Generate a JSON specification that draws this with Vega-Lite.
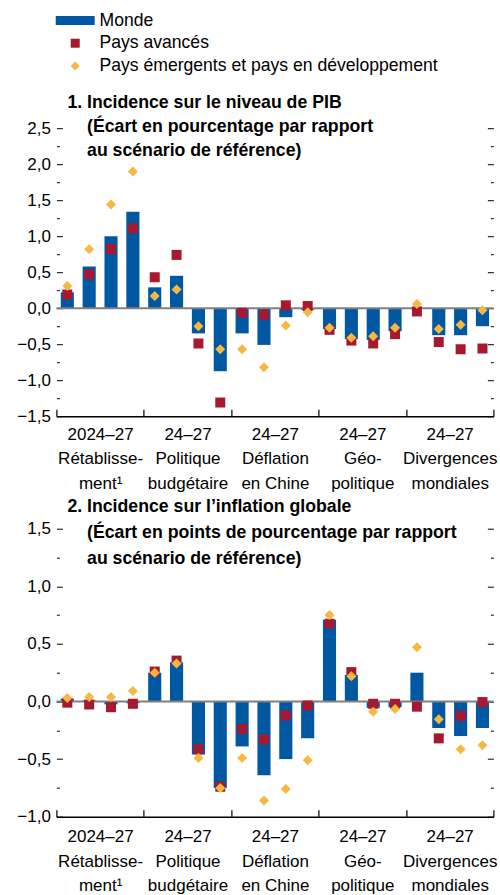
{
  "$schema": "https://vega.github.io/schema/vega-lite/v6.json",
  "padding": {"left": 16.4, "top": 11.2, "right": 4, "bottom": 0},
  "background": "white",
  "config": {
    "font": "Liberation Sans, Arial, sans-serif",
    "view": {"stroke": null},
    "axis": {
      "labelFont": "Liberation Sans, Arial, sans-serif",
      "labelFontSize": 17,
      "labelColor": "black",
      "grid": false,
      "title": null
    },
    "title": {
      "anchor": "start",
      "frame": "group",
      "font": "Liberation Sans, Arial, sans-serif",
      "fontSize": 17.7,
      "fontWeight": "bold",
      "color": "black",
      "dx": 11,
      "baseline": "alphabetic"
    },
    "legend": {
      "orient": "none",
      "legendX": 10,
      "legendY": -116.5,
      "title": null,
      "padding": 0,
      "symbolSize": 81,
      "symbolStrokeWidth": 0,
      "symbolOpacity": 1,
      "labelFont": "Liberation Sans, Arial, sans-serif",
      "labelFontSize": 17.6,
      "labelColor": "black",
      "labelOffset": 15.5,
      "rowPadding": 3.7,
      "labelLimit": 0
    }
  },
  "datasets": {
    "pib": [
      {"scenario": "2024–27|Rétablisse-|ment¹", "year": "2024", "Monde": 0.22, "Pays avancés": 0.19, "Pays émergents et pays en développement": 0.31},
      {"scenario": "2024–27|Rétablisse-|ment¹", "year": "2025", "Monde": 0.58, "Pays avancés": 0.47, "Pays émergents et pays en développement": 0.82},
      {"scenario": "2024–27|Rétablisse-|ment¹", "year": "2026", "Monde": 1.0, "Pays avancés": 0.82, "Pays émergents et pays en développement": 1.44},
      {"scenario": "2024–27|Rétablisse-|ment¹", "year": "2027", "Monde": 1.34, "Pays avancés": 1.11, "Pays émergents et pays en développement": 1.9},
      {"scenario": "24–27|Politique|budgétaire", "year": "2024", "Monde": 0.29, "Pays avancés": 0.43, "Pays émergents et pays en développement": 0.17},
      {"scenario": "24–27|Politique|budgétaire", "year": "2025", "Monde": 0.45, "Pays avancés": 0.74, "Pays émergents et pays en développement": 0.26},
      {"scenario": "24–27|Politique|budgétaire", "year": "2026", "Monde": -0.35, "Pays avancés": -0.49, "Pays émergents et pays en développement": -0.25},
      {"scenario": "24–27|Politique|budgétaire", "year": "2027", "Monde": -0.875, "Pays avancés": -1.31, "Pays émergents et pays en développement": -0.57},
      {"scenario": "24–27|Déflation|en Chine", "year": "2024", "Monde": -0.35, "Pays avancés": -0.065, "Pays émergents et pays en développement": -0.57},
      {"scenario": "24–27|Déflation|en Chine", "year": "2025", "Monde": -0.51, "Pays avancés": -0.09, "Pays émergents et pays en développement": -0.82},
      {"scenario": "24–27|Déflation|en Chine", "year": "2026", "Monde": -0.125, "Pays avancés": 0.04, "Pays émergents et pays en développement": -0.24},
      {"scenario": "24–27|Déflation|en Chine", "year": "2027", "Monde": -0.02, "Pays avancés": 0.03, "Pays émergents et pays en développement": -0.055},
      {"scenario": "24–27|Géo-|politique", "year": "2024", "Monde": -0.29, "Pays avancés": -0.3, "Pays émergents et pays en développement": -0.27},
      {"scenario": "24–27|Géo-|politique", "year": "2025", "Monde": -0.43, "Pays avancés": -0.45, "Pays émergents et pays en développement": -0.41},
      {"scenario": "24–27|Géo-|politique", "year": "2026", "Monde": -0.44, "Pays avancés": -0.49, "Pays émergents et pays en développement": -0.39},
      {"scenario": "24–27|Géo-|politique", "year": "2027", "Monde": -0.32, "Pays avancés": -0.36, "Pays émergents et pays en développement": -0.27},
      {"scenario": "24–27|Divergences|mondiales", "year": "2024", "Monde": 0.005, "Pays avancés": -0.045, "Pays émergents et pays en développement": 0.06},
      {"scenario": "24–27|Divergences|mondiales", "year": "2025", "Monde": -0.375, "Pays avancés": -0.47, "Pays émergents et pays en développement": -0.29},
      {"scenario": "24–27|Divergences|mondiales", "year": "2026", "Monde": -0.375, "Pays avancés": -0.57, "Pays émergents et pays en développement": -0.23},
      {"scenario": "24–27|Divergences|mondiales", "year": "2027", "Monde": -0.25, "Pays avancés": -0.56, "Pays émergents et pays en développement": -0.03}
    ],
    "infl": [
      {"scenario": "2024–27|Rétablisse-|ment¹", "year": "2024", "Monde": 0.025, "Pays avancés": -0.01, "Pays émergents et pays en développement": 0.03},
      {"scenario": "2024–27|Rétablisse-|ment¹", "year": "2025", "Monde": 0.01, "Pays avancés": -0.026, "Pays émergents et pays en développement": 0.04},
      {"scenario": "2024–27|Rétablisse-|ment¹", "year": "2026", "Monde": -0.025, "Pays avancés": -0.05, "Pays émergents et pays en développement": 0.04},
      {"scenario": "2024–27|Rétablisse-|ment¹", "year": "2027", "Monde": -0.015, "Pays avancés": -0.02, "Pays émergents et pays en développement": 0.09},
      {"scenario": "24–27|Politique|budgétaire", "year": "2024", "Monde": 0.25, "Pays avancés": 0.26, "Pays émergents et pays en développement": 0.25},
      {"scenario": "24–27|Politique|budgétaire", "year": "2025", "Monde": 0.34, "Pays avancés": 0.355, "Pays émergents et pays en développement": 0.33},
      {"scenario": "24–27|Politique|budgétaire", "year": "2026", "Monde": -0.46, "Pays avancés": -0.415, "Pays émergents et pays en développement": -0.49},
      {"scenario": "24–27|Politique|budgétaire", "year": "2027", "Monde": -0.75, "Pays avancés": -0.74, "Pays émergents et pays en développement": -0.75},
      {"scenario": "24–27|Déflation|en Chine", "year": "2024", "Monde": -0.39, "Pays avancés": -0.24, "Pays émergents et pays en développement": -0.49},
      {"scenario": "24–27|Déflation|en Chine", "year": "2025", "Monde": -0.64, "Pays avancés": -0.33, "Pays émergents et pays en développement": -0.86},
      {"scenario": "24–27|Déflation|en Chine", "year": "2026", "Monde": -0.5, "Pays avancés": -0.12, "Pays émergents et pays en développement": -0.76},
      {"scenario": "24–27|Déflation|en Chine", "year": "2027", "Monde": -0.32, "Pays avancés": -0.035, "Pays émergents et pays en développement": -0.51},
      {"scenario": "24–27|Géo-|politique", "year": "2024", "Monde": 0.71, "Pays avancés": 0.675, "Pays émergents et pays en développement": 0.75},
      {"scenario": "24–27|Géo-|politique", "year": "2025", "Monde": 0.23, "Pays avancés": 0.255, "Pays émergents et pays en développement": 0.22},
      {"scenario": "24–27|Géo-|politique", "year": "2026", "Monde": -0.055, "Pays avancés": -0.02, "Pays émergents et pays en développement": -0.09},
      {"scenario": "24–27|Géo-|politique", "year": "2027", "Monde": -0.05, "Pays avancés": -0.02, "Pays émergents et pays en développement": -0.065},
      {"scenario": "24–27|Divergences|mondiales", "year": "2024", "Monde": 0.25, "Pays avancés": -0.045, "Pays émergents et pays en développement": 0.47},
      {"scenario": "24–27|Divergences|mondiales", "year": "2025", "Monde": -0.23, "Pays avancés": -0.32, "Pays émergents et pays en développement": -0.155},
      {"scenario": "24–27|Divergences|mondiales", "year": "2026", "Monde": -0.3, "Pays avancés": -0.125, "Pays émergents et pays en développement": -0.415},
      {"scenario": "24–27|Divergences|mondiales", "year": "2027", "Monde": -0.23, "Pays avancés": -0.005, "Pays émergents et pays en développement": -0.38}
    ]
  },
  "spacing": 112.5,
  "bounds": "flush",
  "vconcat": [
    {
      "width": 437,
      "height": 288,
      "title": {
        "text": ["1. Incidence sur le niveau de PIB", "\u200b\u00a0\u00a0\u00a0\u00a0(Écart en pourcentage par rapport", "\u200b\u00a0\u00a0\u00a0\u00a0au scénario de référence)"],
        "lineHeight": 23.9,
        "offset": -40.7
      },
      "data": {"name": "pib"},
      "transform": [{"fold": ["Monde", "Pays avancés", "Pays émergents et pays en développement"], "as": ["series", "value"]}],
      "layer": [
        {
          "transform": [{"filter": "datum.series == 'Monde'"}],
          "mark": {"type": "bar"},
          "encoding": {
            "x": {"field": "scenario", "type": "nominal", "sort": null, "scale": {"paddingInner": 0, "paddingOuter": 0},
              "axis": {"orient": "bottom", "tickBand": "extent", "tickSize": -7, "tickColor": "black", "tickWidth": 1.2, "domainColor": "black", "domainWidth": 1.5, "labelExpr": "split(datum.label, '|')", "labelAngle": 0, "labelLineHeight": 24.5, "labelPadding": 17, "labelBaseline": "top", "labelOverlap": false}},
            "xOffset": {"field": "year", "type": "nominal", "scale": {"paddingInner": 0.4, "paddingOuter": 0.2}},
            "y": {"field": "value", "type": "quantitative", "scale": {"domain": [-1.5, 2.5], "nice": false},
              "axis": {"orient": "left", "values": [-1.5, -1.25, -1, -0.75, -0.5, -0.25, 0, 0.25, 0.5, 0.75, 1, 1.25, 1.5, 1.75, 2, 2.25, 2.5],
                "labelExpr": "abs(datum.value*4) % 2 == 0 ? replace(format(datum.value, '.1f'), '.', ',') : ''",
                "tickSize": {"condition": {"test": "abs(datum.value*4) % 2 == 0", "value": -6}, "value": -3},
                "tickColor": "black", "domain": false, "labelPadding": 12}},
            "color": {"field": "series", "type": "nominal",
              "scale": {"domain": ["Monde", "Pays avancés", "Pays émergents et pays en développement"], "range": ["#0058a3", "#a6192e", "#f5b942"]}}
          }
        },
        {
          "data": {"values": [{}]},
          "mark": {"type": "rule", "color": "#808080", "strokeWidth": 2},
          "encoding": {"y": {"datum": 0, "type": "quantitative", "scale": {"domain": [-1.5, 2.5], "nice": false}, "axis": null}}
        },
        {
          "transform": [{"filter": "datum.series != 'Monde'"}],
          "mark": {"type": "point", "filled": true, "size": 100, "opacity": 1},
          "encoding": {
            "x": {"field": "scenario", "type": "nominal", "sort": null, "scale": {"paddingInner": 0, "paddingOuter": 0},
              "axis": {"orient": "bottom", "tickBand": "extent", "tickSize": -7, "tickColor": "black", "tickWidth": 1.2, "domainColor": "black", "domainWidth": 1.5, "labelExpr": "split(datum.label, '|')", "labelAngle": 0, "labelLineHeight": 24.5, "labelPadding": 17, "labelBaseline": "top", "labelOverlap": false}},
            "xOffset": {"field": "year", "type": "nominal", "scale": {"paddingInner": 0.4, "paddingOuter": 0.2}},
            "y": {"field": "value", "type": "quantitative", "scale": {"domain": [-1.5, 2.5], "nice": false},
              "axis": {"orient": "right", "values": [-1.5, -1.25, -1, -0.75, -0.5, -0.25, 0, 0.25, 0.5, 0.75, 1, 1.25, 1.5, 1.75, 2, 2.25, 2.5],
                "labels": false,
                "tickSize": {"condition": {"test": "abs(datum.value*4) % 2 == 0", "value": -6}, "value": -3},
                "tickColor": "black", "domain": false}},
            "color": {"field": "series", "type": "nominal",
              "scale": {"domain": ["Monde", "Pays avancés", "Pays émergents et pays en développement"], "range": ["#0058a3", "#a6192e", "#f5b942"]}},
            "shape": {"field": "series", "type": "nominal",
              "scale": {"domain": ["Monde", "Pays avancés", "Pays émergents et pays en développement"], "range": ["M-4.33,-1H4.33V1H-4.33Z", "square", "diamond"]}}
          }
        }
      ],
      "resolve": {"scale": {"y": "independent"}}
    },
    {
      "width": 437,
      "height": 288,
      "title": {
        "text": ["2. Incidence sur l’inflation globale", "\u200b\u00a0\u00a0\u00a0\u00a0(Écart en points de pourcentage par rapport", "\u200b\u00a0\u00a0\u00a0\u00a0au scénario de référence)"],
        "lineHeight": 26,
        "offset": -47.7
      },
      "data": {"name": "infl"},
      "transform": [{"fold": ["Monde", "Pays avancés", "Pays émergents et pays en développement"], "as": ["series", "value"]}],
      "layer": [
        {
          "transform": [{"filter": "datum.series == 'Monde'"}],
          "mark": {"type": "bar"},
          "encoding": {
            "x": {"field": "scenario", "type": "nominal", "sort": null, "scale": {"paddingInner": 0, "paddingOuter": 0},
              "axis": {"orient": "bottom", "tickBand": "extent", "tickSize": -7, "tickColor": "black", "tickWidth": 1.2, "domainColor": "black", "domainWidth": 1.5, "labelExpr": "split(datum.label, '|')", "labelAngle": 0, "labelLineHeight": 24.5, "labelPadding": 19, "labelBaseline": "top", "labelOverlap": false}},
            "xOffset": {"field": "year", "type": "nominal", "scale": {"paddingInner": 0.4, "paddingOuter": 0.2}},
            "y": {"field": "value", "type": "quantitative", "scale": {"domain": [-1, 1.5], "nice": false},
              "axis": {"orient": "left", "values": [-1, -0.75, -0.5, -0.25, 0, 0.25, 0.5, 0.75, 1, 1.25, 1.5],
                "labelExpr": "abs(datum.value*4) % 2 == 0 ? replace(format(datum.value, '.1f'), '.', ',') : ''",
                "tickSize": {"condition": {"test": "abs(datum.value*4) % 2 == 0", "value": -6}, "value": -3},
                "tickColor": "black", "domain": false, "labelPadding": 12}},
            "color": {"field": "series", "type": "nominal",
              "scale": {"domain": ["Monde", "Pays avancés", "Pays émergents et pays en développement"], "range": ["#0058a3", "#a6192e", "#f5b942"]}}
          }
        },
        {
          "data": {"values": [{}]},
          "mark": {"type": "rule", "color": "#808080", "strokeWidth": 2},
          "encoding": {"y": {"datum": 0, "type": "quantitative", "scale": {"domain": [-1, 1.5], "nice": false}, "axis": null}}
        },
        {
          "transform": [{"filter": "datum.series != 'Monde'"}],
          "mark": {"type": "point", "filled": true, "size": 100, "opacity": 1},
          "encoding": {
            "x": {"field": "scenario", "type": "nominal", "sort": null, "scale": {"paddingInner": 0, "paddingOuter": 0},
              "axis": {"orient": "bottom", "tickBand": "extent", "tickSize": -7, "tickColor": "black", "tickWidth": 1.2, "domainColor": "black", "domainWidth": 1.5, "labelExpr": "split(datum.label, '|')", "labelAngle": 0, "labelLineHeight": 24.5, "labelPadding": 19, "labelBaseline": "top", "labelOverlap": false}},
            "xOffset": {"field": "year", "type": "nominal", "scale": {"paddingInner": 0.4, "paddingOuter": 0.2}},
            "y": {"field": "value", "type": "quantitative", "scale": {"domain": [-1, 1.5], "nice": false},
              "axis": {"orient": "right", "values": [-1, -0.75, -0.5, -0.25, 0, 0.25, 0.5, 0.75, 1, 1.25, 1.5],
                "labels": false,
                "tickSize": {"condition": {"test": "abs(datum.value*4) % 2 == 0", "value": -6}, "value": -3},
                "tickColor": "black", "domain": false}},
            "color": {"field": "series", "type": "nominal",
              "scale": {"domain": ["Monde", "Pays avancés", "Pays émergents et pays en développement"], "range": ["#0058a3", "#a6192e", "#f5b942"]}},
            "shape": {"field": "series", "type": "nominal",
              "scale": {"domain": ["Monde", "Pays avancés", "Pays émergents et pays en développement"], "range": ["M-4.33,-1H4.33V1H-4.33Z", "square", "diamond"]}}
          }
        }
      ],
      "resolve": {"scale": {"y": "independent"}}
    }
  ]
}
